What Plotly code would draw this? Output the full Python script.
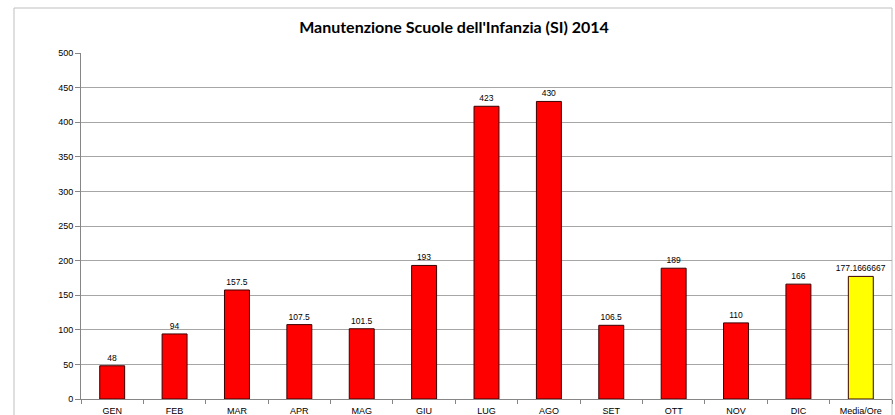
import plotly.graph_objects as go

categories = ["GEN", "FEB", "MAR", "APR", "MAG", "GIU", "LUG", "AGO", "SET", "OTT", "NOV", "DIC", "Media/Ore"]
values = [48, 94, 157.5, 107.5, 101.5, 193, 423, 430, 106.5, 189, 110, 166, 177.1666667]
labels = ["48", "94", "157.5", "107.5", "101.5", "193", "423", "430", "106.5", "189", "110", "166", "177.1666667"]
colors = ["#ff0000"] * 12 + ["#ffff00"]
title = "Manutenzione Scuole dell'Infanzia (SI) 2014"

W, H = 895, 415
L, R, T, B = 81, 3, 53, 16
pw, ph = W - L - R, H - T - B

fig = go.Figure(go.Bar(
    x=categories, y=values,
    marker=dict(color=colors, line=dict(color="#3a0000", width=1)),
    text=labels, textposition="outside", cliponaxis=False,
    textfont=dict(family="Liberation Sans, Arial", size=8.5, color="#000000"),
))

fig.update_layout(
    width=W, height=H,
    margin=dict(l=L, r=R, t=T, b=B, autoexpand=False),
    paper_bgcolor="white", plot_bgcolor="white",
    bargap=0.6, showlegend=False,
    title=dict(text="<b>" + title + "</b>", x=(454 - L) / pw, xref="paper",
               y=1 - 27 / H, yref="container", xanchor="center", yanchor="middle",
               font=dict(family="Lato, Liberation Sans", size=16, color="#000000")),
    uniformtext=dict(minsize=8, mode="show"),
)
fig.update_yaxes(range=[0, 500], dtick=50, showgrid=True, gridcolor="#a6a6a6", gridwidth=1,
                 showline=True, linecolor="#868686", linewidth=1,
                 ticks="outside", ticklen=5, tickcolor="#868686",
                 tickfont=dict(family="Liberation Sans, Arial", size=9, color="#000000"),
                 zeroline=False, fixedrange=True, automargin=False)
fig.update_xaxes(showline=True, linecolor="#868686", linewidth=1,
                 ticks="outside", ticklen=4, tickcolor="#868686", tickson="boundaries",
                 ticklabelstandoff=3,
                 tickfont=dict(family="Liberation Sans, Arial", size=9, color="#000000"),
                 showgrid=False, automargin=False, fixedrange=True)

# outer chart border
fig.add_shape(type="rect", xref="paper", yref="paper",
              x0=(14 - L) / pw, x1=(892 - L) / pw,
              y0=(H - B - 430) / ph, y1=(H - B - 8) / ph,
              line=dict(color="#bfbfbf", width=1), fillcolor="rgba(0,0,0,0)", layer="below")

fig.write_html("out.html", config={"displayModeBar": False},
               post_script="document.body.style.margin='0';document.body.style.overflow='hidden';")
